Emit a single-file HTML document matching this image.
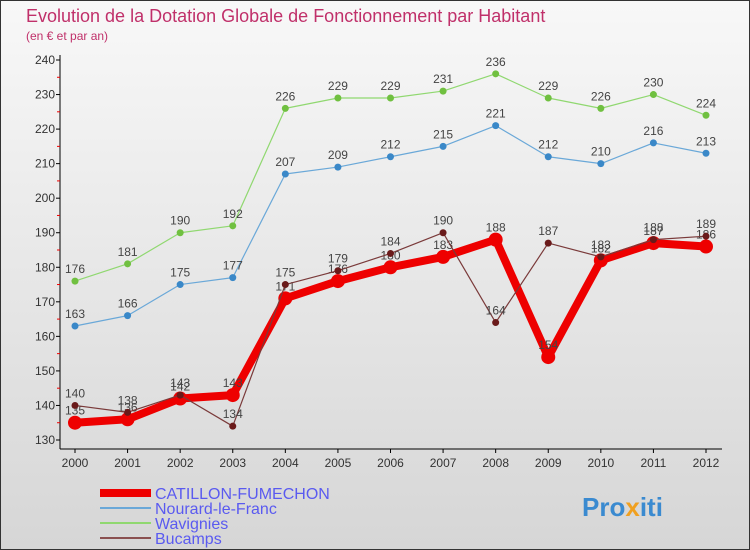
<!DOCTYPE html>
<html><head><meta charset="utf-8"><style>
body{margin:0;width:750px;height:550px;overflow:hidden;font-family:"Liberation Sans",sans-serif}
svg{display:block}
</style></head><body>
<svg id="c" width="750" height="550" xmlns="http://www.w3.org/2000/svg">
<defs><linearGradient id="bg" x1="0" y1="0" x2="0" y2="1"><stop offset="0" stop-color="#f8f8f8"/><stop offset="1" stop-color="#d6d6d6"/></linearGradient></defs>
<rect x="0.5" y="0.5" width="749" height="549" fill="url(#bg)" stroke="#333"/>
<text x="26" y="22" font-size="18" fill="#c0306a">Evolution de la Dotation Globale de Fonctionnement par Habitant</text>
<text x="26" y="40" font-size="12" fill="#c0306a">(en € et par an)</text>
<g id="axes"></g><g id="series"></g><g id="legend"></g>
<text x="582" y="516" font-size="26" font-weight="bold" fill="#3a8ad0">Pro<tspan fill="#f0a020">x</tspan>iti</text>
</svg>
<script>
const years=[2000,2001,2002,2003,2004,2005,2006,2007,2008,2009,2010,2011,2012];
const yTicks=[130,140,150,160,170,180,190,200,210,220,230,240];
const catillon=[135,136,142,143,171,176,180,183,188,154,182,187,186];
const nourard=[163,166,175,177,207,209,212,215,221,212,210,216,213];
const wavignies=[176,181,190,192,226,229,229,231,236,229,226,230,224];
const bucamps=[140,138,143,134,175,179,184,190,164,187,183,188,189];
const NS="http://www.w3.org/2000/svg";
const X=i=>75+i*(706-75)/(years.length-1);
const Y=v=>440-(v-130)*(380/110);
function mk(t,a,p){const e=document.createElementNS(NS,t);for(const k in a)e.setAttribute(k,a[k]);p.appendChild(e);return e;}
const ax=document.getElementById('axes');
let l=mk('line',{x1:60,y1:55,x2:60,y2:449,stroke:'#000'},ax);


l=mk('line',{x1:60,y1:449,x2:722,y2:449,stroke:'#000'},ax);


yTicks.forEach((v,i)=>{const y=Y(v);
mk('line',{x1:56,y1:y,x2:60,y2:y,stroke:'#000'},ax);
if(i<yTicks.length-1)mk('line',{x1:57,y1:Y(v+5),x2:60,y2:Y(v+5),stroke:'#e00'},ax);
const t=mk('text',{x:55,y:y+4,'font-size':12,fill:'#333','text-anchor':'end'},ax);t.textContent=v;

});
years.forEach((yr,i)=>{const x=X(i);
mk('line',{x1:x,y1:449,x2:x,y2:453,stroke:'#000'},ax);
const t=mk('text',{x:x,y:467,'font-size':12,fill:'#333','text-anchor':'middle'},ax);t.textContent=yr;

});
const sg=document.getElementById('series');
function series(name,data,col,w,r,dot){
const g=mk('g',{},sg);


mk('polyline',{points:data.map((v,i)=>X(i)+','+Y(v)).join(' '),fill:'none',stroke:col,'stroke-width':w,'stroke-linejoin':'round'},g);
data.forEach((v,i)=>{const c=mk('circle',{cx:X(i),cy:Y(v),r:r,fill:dot},g);


const t=mk('text',{x:X(i),y:Y(v)-8,'font-size':12,fill:'#444','text-anchor':'middle'},g);t.textContent=v;

});}
series('wavignies',wavignies,'#90d870',1.2,3.5,'#70c040');
series('nourard',nourard,'#6aa8d8',1.2,3.5,'#3a88c8');
series('catillon',catillon,'#ee0000',8,7,'#ee0000');
series('bucamps',bucamps,'#7a3a3a',1.2,3.5,'#6a1a1a');
const lg=document.getElementById('legend');
[['CATILLON-FUMECHON','#ee0000',8],['Nourard-le-Franc','#6aa8d8',2],['Wavignies','#90d870',2],['Bucamps','#8a5050',2]].forEach((e,i)=>{
const y=493+i*15;
const g=mk('g',{},lg);


mk('line',{x1:100,y1:y,x2:151,y2:y,stroke:e[1],'stroke-width':e[2]},g);
const t=mk('text',{x:155,y:y+6,'font-size':16,fill:'#5a5af0'},g);t.textContent=e[0];});
</script>
</body></html>
